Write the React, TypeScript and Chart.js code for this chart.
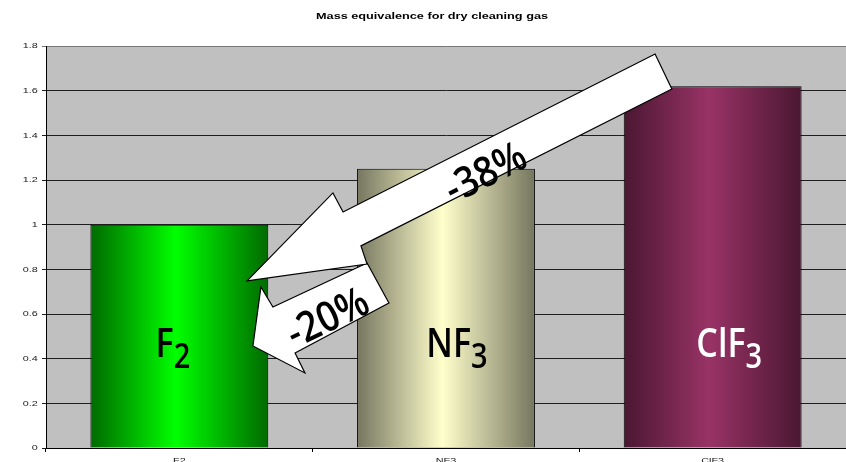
import React, { useEffect, useRef } from 'react';
import { Chart, registerables } from 'chart.js';

Chart.register(...registerables);

// ---- data ----
const categories = ['F2', 'NF3', 'ClF3'];
const massRatio = [1.0, 1.25, 1.62];
const yTickValues = [0, 0.2, 0.4, 0.6, 0.8, 1, 1.2, 1.4, 1.6, 1.8];
const yTickLabels = ['0', '0.2', '0.4', '0.6', '0.8', '1', '1.2', '1.4', '1.6', '1.8'];
const formulaMain = ['F', 'NF', 'ClF'];
const formulaSub = ['2', '3', '3'];
const reductionLabels = ['-38%', '-20%'];
const titleText = 'Mass equivalence for dry cleaning gas';

// ---- styling ----
const barEdge = ['#006a00', '#767660', '#4a1732'];
const barPeak = ['#00ff00', '#ffffcc', '#993366'];
const formulaColor = ['#000000', '#000000', '#ffffff'];
const BAR_PCT = 0.667;
const TICK_FONT = '8px "Liberation Sans", Arial, sans-serif';
const LABEL_FONT = '"Open Sans", "Noto Sans", sans-serif';
const LABEL_WEIGHT = 600;

// label placement in (category position, value) space
const formulaAnchor: [number, number][] = [
  [-0.024, 0.407],
  [1.041, 0.407],
  [2.062, 0.407],
];

// arrow outlines in (category position, value) space
const arrowShapes: [number, number][][] = [
  // ClF3 -> F2
  [
    [1.784, 1.764],
    [1.847, 1.607],
    [0.681, 0.905],
    [0.704, 0.824],
    [0.254, 0.748],
    [0.576, 1.142],
    [0.614, 1.057],
  ],
  // NF3 -> F2
  [
    [0.704, 0.828],
    [0.786, 0.649],
    [0.434, 0.425],
    [0.471, 0.336],
    [0.276, 0.457],
    [0.306, 0.721],
    [0.351, 0.631],
  ],
];
const arrowTextAnchor: [number, number][] = [
  [1.146, 1.238],
  [0.554, 0.589],
];
const arrowTextAngle = [-26.8, -25.5];

function stretchedText(
  ctx: CanvasRenderingContext2D,
  text: string,
  x: number,
  y: number,
  sx: number,
  align: CanvasTextAlign
) {
  ctx.save();
  ctx.translate(x, y);
  ctx.scale(sx, 1);
  ctx.textAlign = align;
  ctx.fillText(text, 0, 0);
  ctx.restore();
}

const decorPlugin = {
  id: 'decor',
  afterDatasetsDraw(chart: any) {
    const ctx: CanvasRenderingContext2D = chart.ctx;
    const xs = chart.scales.x;
    const ys = chart.scales.y;

    // chemical formulas inside the bars
    formulaMain.forEach((main, i) => {
      const cx = xs.getPixelForValue(formulaAnchor[i][0]);
      const by = ys.getPixelForValue(formulaAnchor[i][1]);
      const sx = 0.85;
      const mainFont = `${LABEL_WEIGHT} 40px ${LABEL_FONT}`;
      const subFont = `${LABEL_WEIGHT} 34px ${LABEL_FONT}`;
      ctx.save();
      ctx.fillStyle = formulaColor[i];
      ctx.textBaseline = 'alphabetic';
      ctx.font = mainFont;
      const wMain = ctx.measureText(main).width;
      ctx.font = subFont;
      const wSub = ctx.measureText(formulaSub[i]).width;
      const start = cx - ((wMain + wSub) * sx) / 2;
      ctx.font = mainFont;
      stretchedText(ctx, main, start, by, sx, 'left');
      ctx.font = subFont;
      stretchedText(ctx, formulaSub[i], start + wMain * sx, by + 10.7, sx, 'left');
      ctx.restore();
    });

    // reduction arrows, the smaller one underneath
    for (let k = arrowShapes.length - 1; k >= 0; k--) {
      const pts = arrowShapes[k];
      ctx.save();
      ctx.beginPath();
      pts.forEach(([p, v], j) => {
        const x = xs.getPixelForValue(p);
        const y = ys.getPixelForValue(v);
        if (j === 0) ctx.moveTo(x, y);
        else ctx.lineTo(x, y);
      });
      ctx.closePath();
      ctx.fillStyle = '#ffffff';
      ctx.fill();
      ctx.lineWidth = 1.2;
      ctx.strokeStyle = '#000000';
      ctx.lineJoin = 'miter';
      ctx.stroke();

      const tx = xs.getPixelForValue(arrowTextAnchor[k][0]);
      const ty = ys.getPixelForValue(arrowTextAnchor[k][1]);
      const size = 42;
      ctx.translate(tx, ty);
      ctx.rotate((arrowTextAngle[k] * Math.PI) / 180);
      ctx.font = `${LABEL_WEIGHT} ${size}px ${LABEL_FONT}`;
      ctx.fillStyle = '#000000';
      ctx.textAlign = 'center';
      ctx.textBaseline = 'alphabetic';
      ctx.scale(0.88, 1);
      ctx.fillText(reductionLabels[k], 0, size * 0.714 * 0.5);
      ctx.restore();
    }
  },
  afterDraw(chart: any) {
    const ctx: CanvasRenderingContext2D = chart.ctx;
    const xs = chart.scales.x;
    const ys = chart.scales.y;
    ctx.save();
    ctx.fillStyle = '#1a1a1a';
    ctx.font = TICK_FONT;

    // value axis labels
    ctx.textBaseline = 'middle';
    ys.ticks.forEach((t: any, i: number) => {
      const y = ys.getPixelForValue(t.value);
      stretchedText(ctx, yTickLabels[i] ?? String(t.value), xs.left - 8.3, y, 1.35, 'right');
    });

    // category labels
    ctx.textBaseline = 'alphabetic';
    categories.forEach((c, i) => {
      const x = xs.getPixelForValue(i);
      stretchedText(ctx, c, x, ys.bottom + 15, 1.35, 'center');
    });

    // title
    ctx.fillStyle = '#000000';
    ctx.font = 'bold 9px "Liberation Sans", Arial, sans-serif';
    const w = ctx.measureText(titleText).width;
    const sx = 232 / w;
    stretchedText(ctx, titleText, 432, 19, sx, 'center');
    ctx.restore();
  },
};

const plotBackground = {
  id: 'plotBackground',
  beforeDraw(chart: any) {
    const { ctx, chartArea } = chart;
    ctx.save();
    ctx.fillStyle = '#ffffff';
    ctx.fillRect(0, 0, chart.width, chart.height);
    ctx.fillStyle = '#c0c0c0';
    ctx.fillRect(chartArea.left, chartArea.top, chartArea.right - chartArea.left, chartArea.bottom - chartArea.top);
    ctx.restore();
  },
};

export default function App() {
  const canvasRef = useRef<HTMLCanvasElement | null>(null);

  useEffect(() => {
    const canvas = canvasRef.current;
    if (!canvas) return;
    const chart = new Chart(canvas, {
      type: 'bar',
      data: {
        labels: categories,
        datasets: [
          {
            data: massRatio,
            backgroundColor: (c: any) => {
              const i = c.dataIndex;
              const ch = c.chart;
              const xs = ch.scales?.x;
              if (i === undefined || !xs || !ch.chartArea) return barPeak[i ?? 0];
              const center = xs.getPixelForValue(i);
              const half = ((xs.width / categories.length) * BAR_PCT) / 2;
              const g = ch.ctx.createLinearGradient(center - half, 0, center + half, 0);
              g.addColorStop(0, barEdge[i]);
              g.addColorStop(0.48, barPeak[i]);
              g.addColorStop(1, barEdge[i]);
              return g;
            },
            borderColor: '#000000',
            borderWidth: 1,
            borderSkipped: 'bottom',
            categoryPercentage: 1,
            barPercentage: BAR_PCT,
          },
        ],
      },
      options: {
        responsive: false,
        animation: false,
        devicePixelRatio: 1,
        layout: { padding: { top: 46, left: 0, right: 0, bottom: 0 } },
        plugins: {
          legend: { display: false },
          title: { display: false },
          tooltip: { enabled: false },
        },
        scales: {
          x: {
            offset: true,
            grid: {
              offset: true,
              drawOnChartArea: false,
              drawTicks: true,
              tickLength: 4,
              color: '#000000',
            },
            border: { display: true, color: '#000000', width: 1 },
            ticks: { display: false },
            afterFit: (s: any) => {
              s.height = 14;
            },
          },
          y: {
            min: 0,
            max: 1.8,
            afterBuildTicks: (s: any) => {
              s.ticks = yTickValues.map((v) => ({ value: v }));
            },
            grid: {
              color: (c: any) => (c.tick && c.tick.value >= 1.8 ? '#767676' : '#1e1e1e'),
              tickLength: 4,
              drawTicks: true,
            },
            border: { display: true, color: '#000000', width: 1 },
            ticks: { display: false },
            afterFit: (s: any) => {
              s.width = 46;
            },
          },
        },
      },
      plugins: [plotBackground, decorPlugin],
    });
    if ((document as any).fonts?.ready) {
      (document as any).fonts.ready.then(() => chart.update());
    }
    return () => chart.destroy();
  }, []);

  return (
    <div style={{ position: 'absolute', left: 0, top: 0, width: 846, height: 462, background: '#ffffff' }}>
      <canvas ref={canvasRef} width={846} height={462} style={{ display: 'block', width: 846, height: 462 }} />
    </div>
  );
}
